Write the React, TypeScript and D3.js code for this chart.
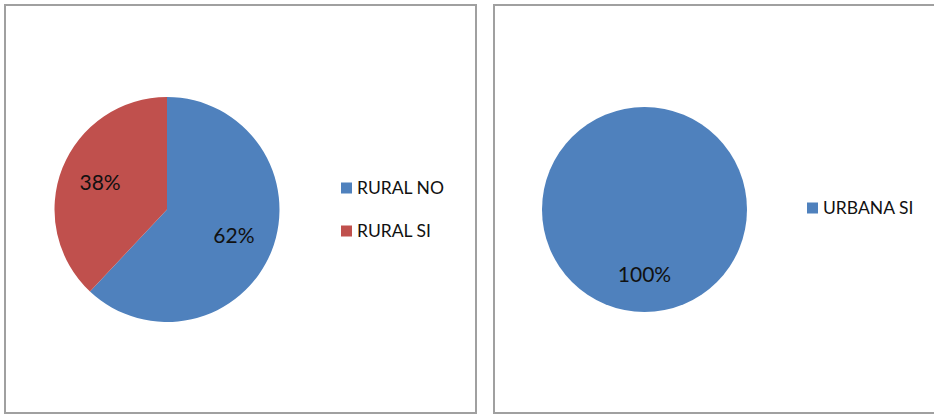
import React from "react";
import * as d3 from "d3";

const ruralCategories = ["RURAL NO", "RURAL SI"];
const ruralValues = [62, 38];
const urbanCategories = ["URBANA SI"];
const urbanValues = [100];
const palette = ["#4F81BD", "#C0504D"];

const FONT = "Lato, 'Open Sans', sans-serif";

function PiePanel({ x, y, w, h, cx, cy, r, categories, values, legendX, legendY, legendGap }) {
  const data = categories.map((c, i) => ({ c, v: values[i], i }));
  const pie = d3.pie<any>().value((d) => d.v).sort(null);
  const arcs = pie(data);
  const arc = d3.arc<any>().innerRadius(0).outerRadius(r);
  const labelArc = d3.arc<any>().innerRadius(r * 0.64).outerRadius(r * 0.64);
  const total = d3.sum(values);
  const fmt = d3.format(".0%");
  const color = d3.scaleOrdinal<string>().domain(categories).range(palette);
  return (
    <g>
      <rect x={x} y={y} width={w} height={h} fill="#fff" stroke="#A0A0A0" strokeWidth={2} />
      <g transform={`translate(${cx},${cy})`}>
        {arcs.map((a) => (
          <path key={a.data.c} d={arc(a) || ""} fill={color(a.data.c)} />
        ))}
        {arcs.map((a) => {
          const [lx, ly] = labelArc.centroid(a);
          return (
            <text key={"l" + a.data.c} x={lx} y={ly} dy="0.35em" textAnchor="middle"
              fontFamily={FONT} fontSize={21} fill="#111">
              {fmt(a.data.v / total)}
            </text>
          );
        })}
      </g>
      {categories.map((c, i) => (
        <g key={"leg" + c} transform={`translate(${legendX},${legendY + i * legendGap})`}>
          <rect x={0} y={-5.5} width={11} height={11} fill={color(c)} />
          <text x={16} y={0} dy="0.35em" fontFamily={FONT} fontSize={17.5} fill="#111">{c}</text>
        </g>
      ))}
    </g>
  );
}

export default function App() {
  return (
    <svg width={934} height={414} style={{ position: "absolute", left: 0, top: 0, background: "#fff" }}>
      <PiePanel x={5} y={5} w={471} h={408} cx={167} cy={209.5} r={112.5}
        categories={ruralCategories} values={ruralValues}
        legendX={341} legendY={188} legendGap={43} />
      <PiePanel x={494} y={5} w={460} h={408} cx={644.5} cy={209.5} r={102.5}
        categories={urbanCategories} values={urbanValues}
        legendX={807} legendY={208} legendGap={43} />
    </svg>
  );
}
